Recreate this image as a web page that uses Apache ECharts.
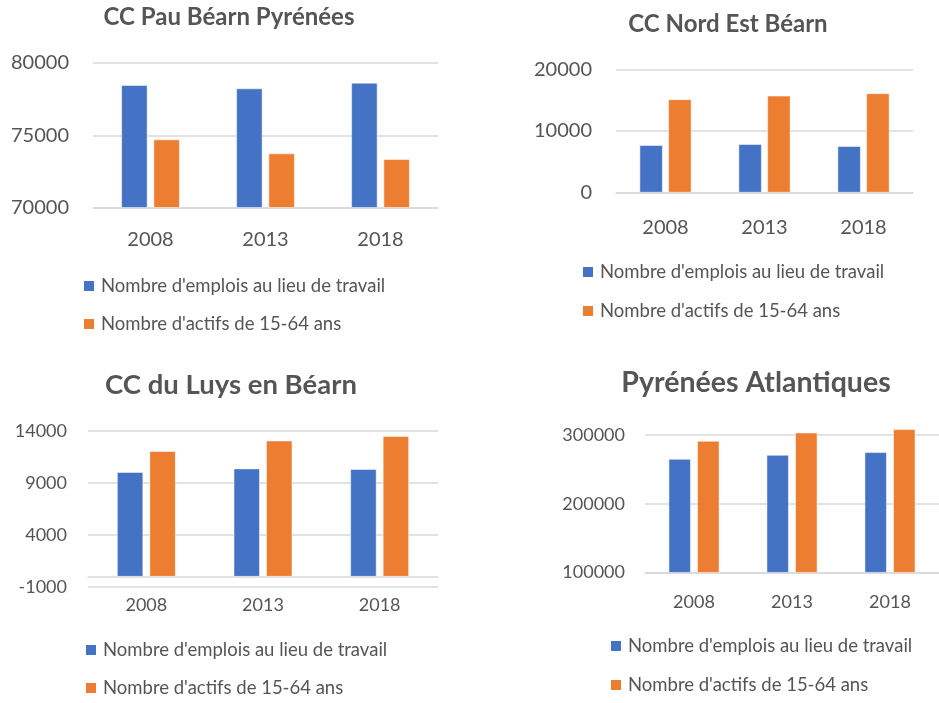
<!DOCTYPE html>
<html>
<head>
<meta charset="utf-8">
<script src="https://cdn.jsdelivr.net/npm/echarts@6/dist/echarts.min.js"></script>
<style>
  html, body { margin: 0; padding: 0; background: #fff; }
  #chart { width: 939px; height: 703px; }
</style>
</head>
<body>
<div id="chart"></div>
<script>
const years = ["2008", "2013", "2018"];
const seriesNames = ["Nombre d'emplois au lieu de travail", "Nombre d'actifs de 15-64 ans"];

const titles = ["CC Pau Béarn Pyrénées", "CC Nord Est Béarn", "CC du Luys en Béarn", "Pyrénées Atlantiques"];

// valeurs
const pauEmplois = [78460, 78230, 78620];
const pauActifs = [74700, 73730, 73340];
const nordEmplois = [7680, 7840, 7520];
const nordActifs = [15140, 15720, 16110];
const luysEmplois = [10040, 10380, 10330];
const luysActifs = [12050, 13070, 13490];
const paEmplois = [265000, 270900, 274800];
const paActifs = [291300, 303400, 308300];

// min / max / pas des axes (le dernier panneau dépasse 300000, sans graduation au-dessus)
const yMins = [70000, 0, -1000, 100000];
const yMaxs = [80000, 20000, 14000, 310000];
const yIntervals = [5000, 10000, 5000, 100000];

const BLUE = "#4472C4";
const ORANGE = "#ED7D31";
const TEXT = "#555555";
const GRID = "#d9d9d9";
const FONT = "Lato, 'Open Sans', sans-serif";

// mise en page de chaque panneau
const panels = [
    { grid: { left: 93, top: 63, width: 345, height: 144.5 }, title: { x: 229, y: 5, size: 24 },
      legend: { left: 82, top: 276, gap: 18 }, yFont: 20, xFont: 20, yMargin: 24, xMargin: 22,
      barWidth: 26, barGap: "24%", hideMax: false, data: [pauEmplois, pauActifs] },
    { grid: { left: 616, top: 69.5, width: 297, height: 123 }, title: { x: 728, y: 12, size: 24 },
      legend: { left: 581, top: 262, gap: 19 }, yFont: 20, xFont: 20, yMargin: 24, xMargin: 25,
      barWidth: 23, barGap: "25%", hideMax: false, data: [nordEmplois, nordActifs] },
    { grid: { left: 88, top: 431, width: 350, height: 156 }, title: { x: 231, y: 371, size: 27.5 },
      legend: { left: 84, top: 640, gap: 18 }, yFont: 18, xFont: 18, yMargin: 21, xMargin: 9,
      barWidth: 26, barGap: "25%", hideMax: false, data: [luysEmplois, luysActifs] },
    { grid: { left: 645, top: 428.2, width: 297, height: 144.2 }, title: { x: 756, y: 368, size: 28.5 },
      legend: { left: 609, top: 636, gap: 19 }, yFont: 18, xFont: 18, yMargin: 20, xMargin: 21,
      barWidth: 22, barGap: "30%", hideMax: true, data: [paEmplois, paActifs] }
];

const chart = echarts.init(document.getElementById("chart"));

const option = {
    backgroundColor: "#fff",
    animation: false,
    title: [],
    legend: [],
    grid: [],
    xAxis: [],
    yAxis: [],
    series: []
};

panels.forEach((p, i) => {
    option.title.push({
        text: titles[i],
        left: p.title.x,
        top: p.title.y,
        textAlign: "center",
        padding: 0,
        textStyle: { color: TEXT, fontFamily: FONT, fontSize: p.title.size, fontWeight: "bold" }
    });
    option.legend.push({
        data: seriesNames,
        orient: "vertical",
        left: p.legend.left,
        top: p.legend.top,
        padding: 0,
        itemGap: p.legend.gap,
        itemWidth: 12,
        itemHeight: 12,
        icon: "rect",
        selectedMode: false,
        textStyle: { color: TEXT, fontFamily: FONT, fontSize: 18.5, lineHeight: 20, padding: [0, 0, 0, 1] }
    });
    option.grid.push(Object.assign({ containLabel: false }, p.grid));
    option.xAxis.push({
        type: "category",
        gridIndex: i,
        data: years,
        axisTick: { show: false },
        axisLine: { lineStyle: { color: GRID, width: 1.5 } },
        axisLabel: { color: TEXT, fontFamily: FONT, fontSize: p.xFont, margin: p.xMargin }
    });
    option.yAxis.push({
        type: "value",
        gridIndex: i,
        min: yMins[i],
        max: yMaxs[i],
        interval: yIntervals[i],
        axisLine: { show: false },
        axisTick: { show: false },
        splitLine: { showMaxLine: !p.hideMax, lineStyle: { color: GRID, width: 1.5 } },
        axisLabel: {
            color: TEXT, fontFamily: FONT, fontSize: p.yFont, margin: p.yMargin,
            showMaxLabel: !p.hideMax,
            formatter: (v) => String(v)
        }
    });
    seriesNames.forEach((name, k) => {
        option.series.push({
            name: name,
            type: "bar",
            xAxisIndex: i,
            yAxisIndex: i,
            data: p.data[k],
            barWidth: p.barWidth,
            barGap: p.barGap,
            itemStyle: { color: k === 0 ? BLUE : ORANGE, borderColor: "#fff", borderWidth: 0.5 }
        });
    });
});

chart.setOption(option);
</script>
</body>
</html>
